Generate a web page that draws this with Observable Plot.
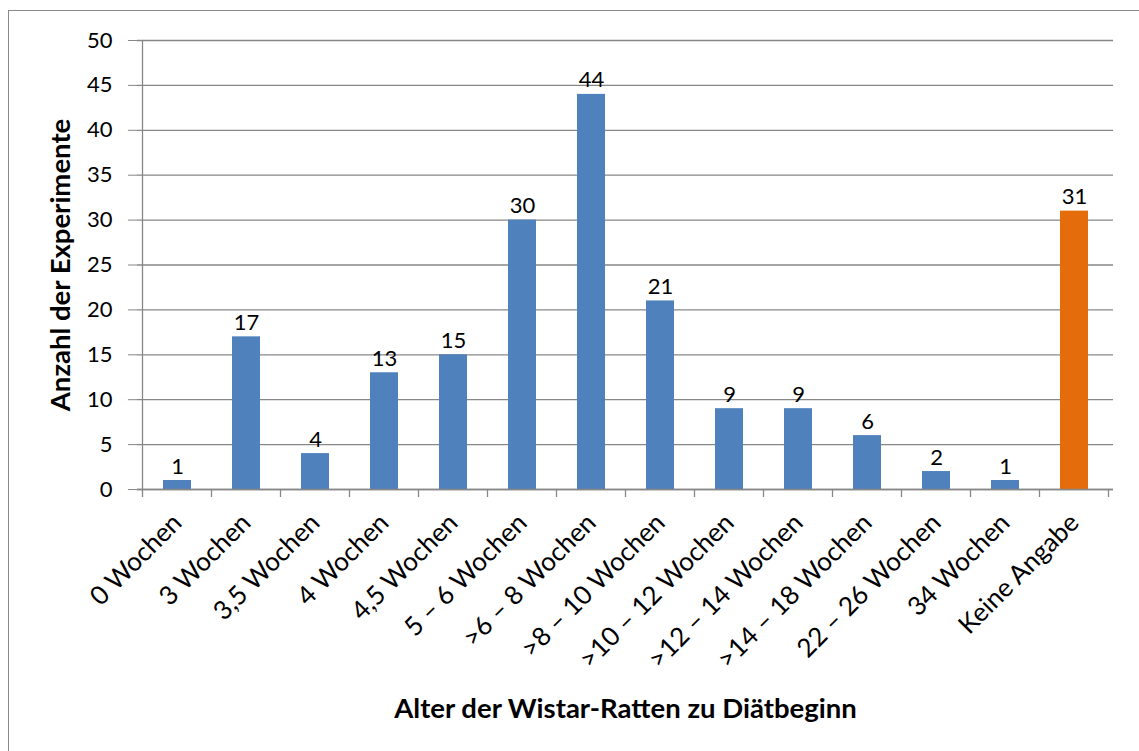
<!DOCTYPE html>
<html><head><meta charset="utf-8">
<script src="https://cdn.jsdelivr.net/npm/d3@7"></script>
<script src="https://cdn.jsdelivr.net/npm/@observablehq/plot@0.6"></script>
<style>
html,body{margin:0;padding:0;background:#fff;overflow:hidden}
#wrap{position:relative;width:1139px;height:751px;overflow:hidden;background:#fff}
#border{position:absolute;left:8px;top:10px;width:1200px;height:800px;border:1px solid #898989;box-sizing:border-box}
#chart{position:absolute;left:0;top:0}
g[aria-label="x-axis label"] text, g[aria-label="y-axis label"] text{font-weight:bold;font-size:27.5px}
</style></head>
<body><div id="wrap"><div id="border"></div><div id="chart"></div></div>
<script>
const categories = ["0 Wochen","3 Wochen","3,5 Wochen","4 Wochen","4,5 Wochen","5 – 6 Wochen",">6 – 8 Wochen",">8 – 10 Wochen",">10 – 12 Wochen",">12 – 14 Wochen",">14 – 18 Wochen","22 – 26 Wochen","34 Wochen","Keine Angabe"];
const counts = [1,17,4,13,15,30,44,21,9,9,6,2,1,31];
const noInfoCategory = "Keine Angabe";
const groupNames = ["angegeben","keine Angabe"];
const groupColors = ["#4F81BD","#E46C0A"];
const yTicks = [0,5,10,15,20,25,30,35,40,45,50];
const xTitle = "Alter der Wistar-Ratten zu Diätbeginn";
const yTitle = "Anzahl der Experimente";

const data = categories.map((c,i)=>({category:c, count:counts[i], group: c===noInfoCategory ? groupNames[1] : groupNames[0]}));

const axisColor = "#878787";
const FS = 22;
const FSX = 26;

// tick marks at category boundaries + left axis line, derived from the band scale
function boundaryTicks(index, scales, values, dimensions){
  const x = scales.x, y = scales.y;
  const step = x.step(), bw = x.bandwidth();
  const gap = (step - bw)/2;
  const edges = categories.map(c => x(c) - gap);
  edges.push(x(categories[categories.length-1]) + bw + gap);
  const y0 = y(0), yTop = y(yTicks[yTicks.length-1]);
  const g = d3.create("svg:g").attr("stroke", axisColor).attr("stroke-width", 1.3);
  g.selectAll("line.t").data(edges).join("line")
    .attr("x1", d=>d).attr("x2", d=>d).attr("y1", y0).attr("y2", y0+8);
  g.append("line").attr("x1", edges[0]).attr("x2", edges[0]).attr("y1", yTop).attr("y2", y0);
  return g.node();
}

const chart = Plot.plot({
  width:1139, height:751,
  marginLeft:137, marginRight:26, marginTop:40, marginBottom:262,
  style:{fontFamily:"Lato, sans-serif", fontSize:"22px", color:"#000", background:"transparent", overflow:"visible"},
  x:{domain:categories, paddingInner:0.6, paddingOuter:0.3, label:null},
  y:{domain:[0,50], label:null},
  color:{domain:groupNames, range:groupColors},
  marks:[
    Plot.gridY(yTicks,{stroke:axisColor, strokeOpacity:1, strokeWidth:1.3}),
    Plot.barY(data,{x:"category", y:"count", fill:"group"}),
    Plot.ruleY([0],{stroke:axisColor, strokeWidth:1.3}),
    boundaryTicks,
    Plot.axisY(yTicks,{tickSize:9, tickPadding:16, stroke:axisColor, fill:"#000", fontSize:FS, label:yTitle, labelAnchor:"center", labelOffset:87, labelArrow:false}),
    Plot.axisX({tickSize:0, tickRotate:-45, tickPadding:29, fill:"#000", fontSize:FSX, label:xTitle, labelAnchor:"center", labelOffset:228, labelArrow:false}),
    Plot.text(data,{x:"category", y:"count", text:"count", lineAnchor:"bottom", dy:-7, fill:"#000", fontSize:FS})
  ]
});
document.getElementById("chart").appendChild(chart);
</script>
</body></html>
